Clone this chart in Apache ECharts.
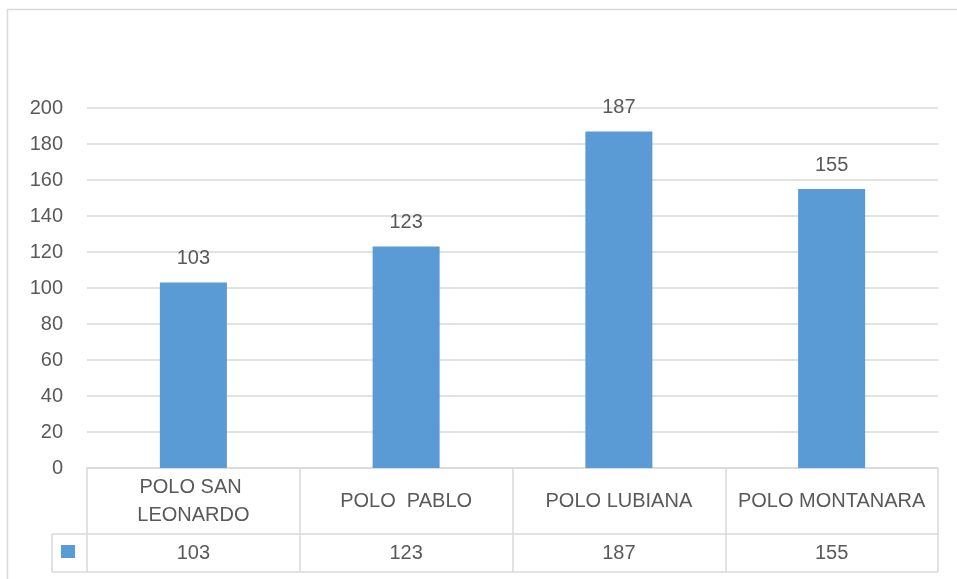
<!DOCTYPE html>
<html>
<head>
<meta charset="utf-8">
<style>
  html, body { margin: 0; padding: 0; background: #fff; }
  #chart { width: 957px; height: 579px; }
</style>
<script src="https://cdn.jsdelivr.net/npm/echarts@6/dist/echarts.min.js"></script>
</head>
<body>
<div id="chart"></div>
<script>
// data
var categories = ['POLO SAN LEONARDO', 'POLO  PABLO', 'POLO LUBIANA', 'POLO MONTANARA']
var values = [103, 123, 187, 155]
var yTicks = [0, 20, 40, 60, 80, 100, 120, 140, 160, 180, 200]

var textColor = '#595959'
var lineColor = '#d9d9d9'
var barColor = '#5b9bd5'
var font = 'Liberation Sans'

// grid box (px)
var gLeft = 87
var gRight = 938
var gTop = 108
var gBottom = 468
var rowMid = 534
var rowEnd = 572
var keyLeft = 52

var chart = echarts.init(document.getElementById('chart'))

chart.setOption({
  animation: false,
  textStyle: { fontFamily: font },
  grid: {
    left: gLeft,
    right: 957 - gRight,
    top: gTop,
    bottom: 579 - gBottom
  },
  xAxis: [{
    type: 'category',
    data: categories,
    axisLine: { show: true, lineStyle: { color: lineColor, width: 1.5 } },
    axisTick: { show: true, length: rowEnd - gBottom, lineStyle: { color: lineColor, width: 1.5 } },
    axisLabel: {
      color: textColor,
      fontSize: 20,
      fontFamily: font,
      margin: 33,
      verticalAlign: 'middle',
      lineHeight: 28,
      width: 200,
      overflow: 'break',
      interval: 0
    }
  }, {
    // value row of the data table
    type: 'category',
    position: 'bottom',
    data: values.map(String),
    axisLine: { show: false },
    axisTick: { show: false },
    axisLabel: {
      color: textColor,
      fontSize: 20,
      fontFamily: font,
      margin: 85,
      verticalAlign: 'middle',
      interval: 0
    }
  }],
  yAxis: {
    type: 'value',
    min: yTicks[0],
    max: yTicks[yTicks.length - 1],
    interval: 20,
    axisLine: { show: false },
    axisTick: { show: false },
    axisLabel: { color: textColor, fontSize: 20, fontFamily: font, margin: 24 },
    splitLine: { lineStyle: { color: lineColor, width: 1.5 } }
  },
  series: [{
    type: 'bar',
    data: values,
    barWidth: '31.5%',
    itemStyle: { color: barColor },
    label: {
      show: true,
      position: 'top',
      distance: 14,
      color: textColor,
      fontSize: 20,
      fontFamily: font
    }
  }],
  graphic: [
    // outer chart border
    {
      type: 'rect',
      shape: { x: 7.5, y: 9.5, width: 1000, height: 1000 },
      style: { fill: null, stroke: lineColor, lineWidth: 1.5 },
      silent: true
    },
    // table rows
    {
      type: 'line',
      shape: { x1: keyLeft, y1: rowMid, x2: gRight, y2: rowMid },
      style: { stroke: lineColor, lineWidth: 1.5 }
    },
    {
      type: 'line',
      shape: { x1: keyLeft, y1: rowEnd, x2: gRight, y2: rowEnd },
      style: { stroke: lineColor, lineWidth: 1.5 }
    },
    {
      type: 'line',
      shape: { x1: keyLeft, y1: rowMid, x2: keyLeft, y2: rowEnd },
      style: { stroke: lineColor, lineWidth: 1.5 }
    },
    // legend key
    {
      type: 'rect',
      shape: { x: 61, y: 545, width: 14, height: 13 },
      style: { fill: barColor }
    }
  ]
})
</script>
</body>
</html>
